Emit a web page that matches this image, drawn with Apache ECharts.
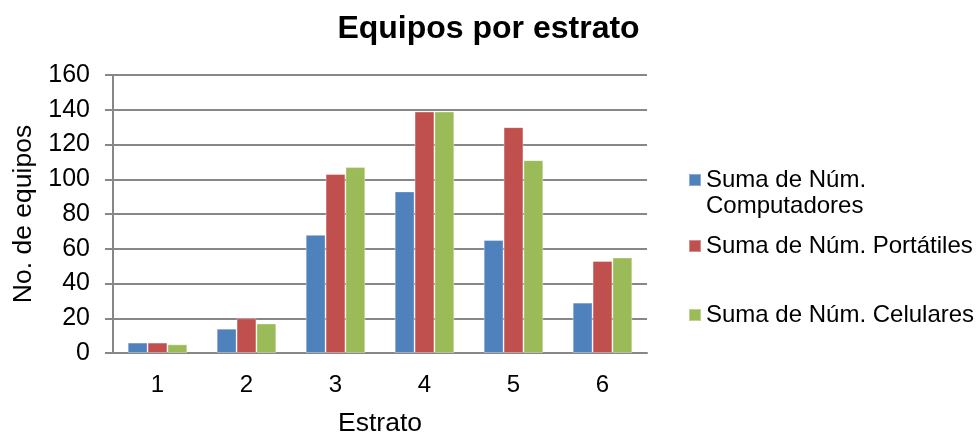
<!DOCTYPE html>
<html>
<head>
<meta charset="utf-8">
<script src="https://cdn.jsdelivr.net/npm/echarts@6/dist/echarts.min.js"></script>
<style>
  html, body { margin: 0; padding: 0; background: #fff; }
  #chart { width: 977px; height: 438px; }
</style>
</head>
<body>
<div id="chart"></div>
<script>
// Strata and equipment counts per stratum
const categories = ['1', '2', '3', '4', '5', '6'];
const computadores = [6, 14, 68, 93, 65, 29];
const portatiles = [6, 20, 103, 139, 130, 53];
const celulares = [5, 17, 107, 139, 111, 55];
const seriesNames = ['Suma de Núm.\nComputadores', 'Suma de Núm. Portátiles', 'Suma de Núm. Celulares'];
const yTicks = { min: 0, max: 160, interval: 20 };

const font = '"Liberation Sans", Arial, sans-serif';
const colors = ['#4F81BD', '#C0504D', '#9BBB59'];
const gridColor = '#878787';

const chart = echarts.init(document.getElementById('chart'), null, { renderer: 'canvas' });

// one legend block per series so each entry sits at its own height;
// a two-line name gets a leading blank line so its first line lines up with the swatch
function legendAt(name, top) {
  const twoLine = name.indexOf('\n') >= 0;
  return {
    data: [name],
    left: 688,
    top: top,
    padding: 0,
    orient: 'vertical',
    itemWidth: 12,
    itemHeight: 12,
    itemGap: 0,
    selectedMode: false,
    icon: 'rect',
    formatter: n => (twoLine ? '\n' + n : n),
    textStyle: { fontFamily: font, fontSize: 24, color: '#000', lineHeight: 26 }
  };
}

function barSeries(name, data, color) {
  return {
    name: name,
    type: 'bar',
    data: data,
    barGap: '0%',
    barCategoryGap: '33%',
    itemStyle: { color: color, borderColor: 'rgba(255,255,255,0.35)', borderWidth: 1 }
  };
}

chart.setOption({
  animation: false,
  color: colors,
  title: {
    text: 'Equipos por estrato',
    left: 'center',
    top: 8,
    textStyle: { fontFamily: font, fontSize: 32, fontWeight: 'bold', color: '#000' }
  },
  legend: [
    legendAt(seriesNames[0], 141),
    legendAt(seriesNames[1], 233),
    legendAt(seriesNames[2], 302)
  ],
  grid: { left: 113, top: 75, width: 534, height: 278, outerBoundsMode: 'none', containLabel: false },
  xAxis: {
    type: 'category',
    data: categories,
    name: 'Estrato',
    nameLocation: 'middle',
    nameGap: 57,
    nameTextStyle: { fontFamily: font, fontSize: 26.5, color: '#000' },
    axisLine: { lineStyle: { color: gridColor, width: 2 } },
    axisTick: { show: false },
    axisLabel: { fontFamily: font, fontSize: 24, color: '#000', margin: 20 }
  },
  yAxis: {
    type: 'value',
    min: yTicks.min,
    max: yTicks.max,
    interval: yTicks.interval,
    name: 'No. de equipos',
    nameLocation: 'middle',
    nameGap: 70,
    nameTextStyle: { fontFamily: font, fontSize: 26.5, color: '#000' },
    axisLine: { show: true, lineStyle: { color: gridColor, width: 2 } },
    axisTick: { show: true, length: 8, lineStyle: { color: gridColor, width: 2 } },
    axisLabel: { fontFamily: font, fontSize: 25, color: '#000', margin: 23 },
    splitLine: { lineStyle: { color: gridColor, width: 2 } }
  },
  series: [
    barSeries(seriesNames[0], computadores, colors[0]),
    barSeries(seriesNames[1], portatiles, colors[1]),
    barSeries(seriesNames[2], celulares, colors[2])
  ]
});
</script>
</body>
</html>
